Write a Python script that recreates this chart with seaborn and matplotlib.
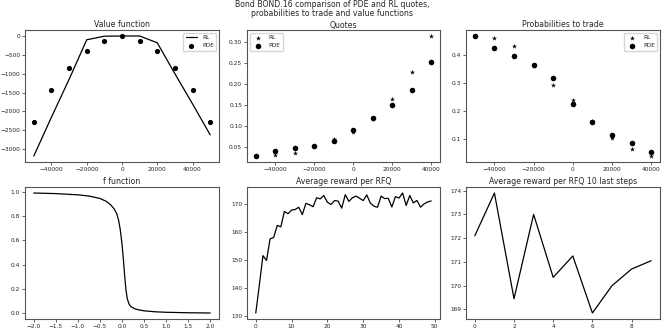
import numpy as np
import seaborn as sns
import matplotlib.pyplot as plt

# inventory grid
inv_vf = [-50000, -40000, -30000, -20000, -10000, 0, 10000, 20000, 30000, 40000, 50000]
vf_rl = [-3180, -2150, -1150, -100, -5, 0, 0, -180, -1000, -1800, -2620]
vf_pde = [-2290, -1430, -850, -410, -120, 0, -120, -410, -850, -1430, -2290]

inv_q = [-50000, -40000, -30000, -20000, -10000, 0, 10000, 20000, 30000, 40000]
quotes_rl = [0.028, 0.030, 0.036, 0.052, 0.069, 0.086, 0.117, 0.164, 0.228, 0.315]
quotes_pde = [0.0286, 0.039, 0.047, 0.053, 0.064, 0.090, 0.119, 0.150, 0.186, 0.254]

proba_rl = [0.470, 0.463, 0.435, 0.362, 0.295, 0.240, 0.164, 0.102, 0.063, 0.039]
proba_pde = [0.470, 0.426, 0.399, 0.367, 0.320, 0.227, 0.161, 0.116, 0.084, 0.055]

# f function
f_x = [-2.0, -1.5, -1.0, -0.75, -0.5, -0.35, -0.25, -0.18, -0.12, -0.08, -0.04, 0.0,
       0.03, 0.06, 0.09, 0.12, 0.16, 0.2, 0.28, 0.38, 0.5, 0.75, 1.0, 1.5, 2.0]
f_y = [0.99, 0.985, 0.975, 0.965, 0.945, 0.92, 0.89, 0.86, 0.82, 0.77, 0.69, 0.57,
       0.45, 0.31, 0.19, 0.12, 0.075, 0.055, 0.038, 0.028, 0.02, 0.012, 0.008, 0.004, 0.002]

avg_reward = [131.0, 141.0, 151.5, 149.8, 157.5, 158.0, 162.3, 161.8, 167.3, 166.5,
              167.8, 168.0, 168.8, 166.2, 170.2, 169.7, 169.0, 172.2, 171.8, 173.0,
              170.6, 169.8, 171.2, 171.0, 168.5, 173.3, 170.9, 172.2, 172.8, 172.0,
              171.2, 173.2, 170.3, 169.2, 168.8, 172.8, 171.9, 172.0, 168.9, 172.6,
              172.1, 173.9, 169.45, 173.0, 170.35, 171.25, 168.85, 170.0, 170.7, 171.05]
last_steps = avg_reward[-10:]

sns.set_style('ticks')
plt.rcParams['font.family'] = ['DejaVu Sans']
plt.rcParams['axes.edgecolor'] = '#555555'
plt.rcParams['axes.linewidth'] = 0.8
plt.rcParams['xtick.major.size'] = 2
plt.rcParams['ytick.major.size'] = 2
plt.rcParams['xtick.major.width'] = 0.5
plt.rcParams['ytick.major.width'] = 0.5

W, H = 664, 332
fig = plt.figure(figsize=(6.64, 3.32), dpi=100)


def box(l, t, r, b):
    return [l / W, 1 - b / H, (r - l) / W, (b - t) / H]


ax1 = fig.add_axes(box(25, 30, 219, 162))
ax2 = fig.add_axes(box(247, 30, 440, 162))
ax3 = fig.add_axes(box(466, 30, 660, 162))
ax4 = fig.add_axes(box(25, 187, 219, 319))
ax5 = fig.add_axes(box(247, 187, 440, 319))
ax6 = fig.add_axes(box(466, 187, 660, 319))

tfs = 5.6
kfs = 4.2
ms = 14

# value function
sns.lineplot(x=inv_vf, y=vf_rl, ax=ax1, color='black', lw=0.9, label='RL')
sns.scatterplot(x=inv_vf, y=vf_pde, ax=ax1, color='black', marker='o', s=ms, linewidth=0, label='PDE')
ax1.set_title('Value function', fontsize=tfs, pad=2)
ax1.set_yticks(np.arange(-3000, 1, 500))
ax1.legend(loc='upper right', fontsize=kfs, frameon=True, handlelength=2.0)

# quotes
sns.scatterplot(x=inv_q, y=quotes_rl, ax=ax2, color='black', marker='*', s=ms, linewidth=0, label='RL')
sns.scatterplot(x=inv_q, y=quotes_pde, ax=ax2, color='black', marker='o', s=ms + 2, linewidth=0, label='PDE')
ax2.set_title('Quotes', fontsize=tfs, pad=1.5)
ax2.legend(loc='upper left', fontsize=kfs, frameon=True)

# probabilities
sns.scatterplot(x=inv_q, y=proba_rl, ax=ax3, color='black', marker='*', s=ms, linewidth=0, label='RL')
sns.scatterplot(x=inv_q, y=proba_pde, ax=ax3, color='black', marker='o', s=ms + 2, linewidth=0, label='PDE')
ax3.set_title('Probabilities to trade', fontsize=tfs, pad=2)
ax3.set_yticks([0.1, 0.2, 0.3, 0.4])
ax3.legend(loc='upper right', fontsize=kfs, frameon=True)

for ax in (ax1, ax2, ax3):
    ax.set_xticks([-40000, -20000, 0, 20000, 40000])

# f function
sns.lineplot(x=f_x, y=f_y, ax=ax4, color='black', lw=0.9)
ax4.set_title('f function', fontsize=tfs, pad=2)
ax4.set_xticks(np.arange(-2.0, 2.01, 0.5))
ax4.set_yticks(np.arange(0, 1.01, 0.2))

# average reward
sns.lineplot(x=np.arange(len(avg_reward)), y=avg_reward, ax=ax5, color='black', lw=0.9)
ax5.set_title('Average reward per RFQ', fontsize=tfs, pad=2)
ax5.set_yticks([130, 140, 150, 160, 170])

sns.lineplot(x=np.arange(len(last_steps)), y=last_steps, ax=ax6, color='black', lw=0.9)
ax6.set_title('Average reward per RFQ 10 last steps', fontsize=tfs, pad=2)
ax6.set_xticks([0, 2, 4, 6, 8])

for ax in (ax1, ax2, ax3, ax4, ax5, ax6):
    ax.tick_params(labelsize=kfs, pad=1.5)
    ax.set_xlabel('')
    ax.set_ylabel('')

fig.suptitle('Bond BOND.16 comparison of PDE and RL quotes,\nprobabilities to trade and value functions',
             fontsize=tfs, y=0.999, linespacing=0.95)

fig.savefig('out.png', dpi=100)
